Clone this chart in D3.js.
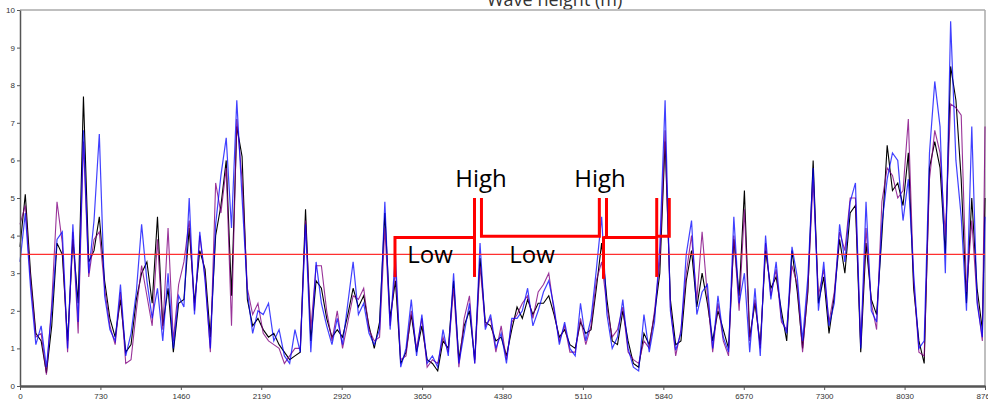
<!DOCTYPE html>
<html>
<head>
<meta charset="utf-8">
<script src="https://cdn.jsdelivr.net/npm/d3@7"></script>
<style>
  html, body { margin: 0; padding: 0; background: #fff; }
  svg { display: block; }
  .axis text { font-family: "Liberation Sans", Arial, sans-serif; font-size: 8px; fill: #333; }
  .axis path, .axis line { stroke: #555; }
</style>
</head>
<body>
<svg id="chart" width="988" height="404"></svg>
<script>
"use strict";

// hourly record sampled every 48 h, last point at hour 8760
const STEP = 48;

const blueSeries = [
  3.3, 4.6, 2.6, 1.1, 1.6, 0.5, 2.0, 3.9, 4.1, 1.0,
  4.3, 1.7, 6.8, 3.0, 4.4, 6.7, 2.4, 1.5, 1.2, 2.7,
  0.8, 1.4, 2.5, 4.3, 2.8, 1.8, 2.6, 1.2, 3.0, 1.0,
  2.4, 2.1, 5.0, 1.9, 4.1, 2.8, 1.0, 4.3, 5.6, 6.6,
  4.2, 7.6, 5.0, 2.5, 1.4, 2.0, 1.9, 2.2, 1.2, 1.5,
  0.8, 0.6, 1.5, 0.9, 4.3, 0.9, 3.3, 2.2, 1.6, 1.1,
  1.8, 1.1, 2.2, 3.3, 1.9, 2.2, 1.4, 1.1, 1.5, 4.9,
  1.5, 3.5, 0.5, 1.0, 2.3, 0.8, 1.9, 0.6, 0.8, 0.5,
  1.5, 0.8, 3.0, 0.6, 1.4, 2.2, 0.6, 3.8, 1.5, 1.9,
  1.0, 1.4, 0.6, 1.8, 1.8, 2.0, 2.6, 1.6, 2.0, 2.5,
  2.8, 2.1, 1.1, 1.7, 1.0, 0.8, 2.2, 1.2, 1.8, 3.1,
  4.5, 1.9, 1.0, 1.3, 2.3, 1.0, 0.5, 0.4, 1.9, 0.9,
  1.7, 3.7, 7.6, 2.0, 0.95, 1.4, 3.5, 4.4, 1.9, 2.5,
  2.7, 1.0, 2.4, 1.3, 0.9, 4.5, 2.2, 3.0, 0.9, 2.6,
  0.8, 4.0, 2.3, 3.3, 1.8, 1.4, 3.7, 2.9, 1.2, 2.9,
  5.8, 2.0, 3.3, 1.6, 2.2, 4.3, 3.3, 4.9, 5.4, 1.0,
  4.9, 2.0, 1.7, 4.3, 5.5, 6.2, 6.0, 4.4, 5.5, 3.0,
  1.0, 1.2, 6.2, 8.1, 6.9, 3.0, 9.7, 6.0, 4.5, 2.0,
  6.9, 2.2, 1.3, 4.5
];

const blackSeries = [
  3.7, 5.1, 3.0, 1.4, 1.2, 0.35, 1.6, 3.8, 3.5, 1.2,
  3.9, 2.2, 7.7, 3.3, 3.6, 4.5, 2.8, 1.8, 1.3, 2.3,
  0.9, 1.1, 2.3, 3.0, 3.3, 2.2, 4.5, 1.6, 2.6, 0.9,
  2.2, 2.3, 4.2, 2.2, 3.6, 3.1, 1.3, 4.0, 4.8, 6.0,
  2.4, 6.9, 6.1, 2.3, 1.6, 1.8, 1.5, 1.3, 1.4, 1.1,
  0.9, 0.7, 0.8, 0.9, 4.7, 1.2, 2.8, 2.6, 1.8, 1.3,
  1.5, 1.3, 1.9, 2.6, 2.1, 2.4, 1.6, 1.0, 1.7, 4.6,
  1.8, 2.8, 0.6, 0.9, 1.9, 0.9, 1.6, 0.7, 0.6, 0.4,
  1.2, 1.0, 2.8, 0.7, 1.6, 2.0, 0.7, 3.4, 1.7, 1.6,
  1.2, 1.3, 0.8, 1.5, 2.1, 1.8, 2.3, 1.9, 2.2, 2.2,
  2.4, 1.9, 1.3, 1.5, 1.1, 1.0, 1.7, 1.4, 1.5, 2.6,
  3.8, 2.3, 1.2, 1.1, 2.0, 1.2, 0.6, 0.5, 1.4, 1.1,
  1.9, 3.0, 6.5, 2.3, 1.1, 1.2, 2.8, 3.6, 2.1, 3.0,
  2.2, 1.2, 2.0, 1.5, 1.0, 3.9, 2.4, 5.2, 1.3, 2.2,
  1.1, 3.6, 2.6, 2.9, 2.0, 1.2, 3.6, 2.5, 1.0, 2.5,
  6.0, 2.2, 2.9, 1.4, 2.4, 3.9, 3.0, 4.6, 4.8, 0.9,
  3.8, 2.3, 1.9, 4.0, 6.4, 5.2, 5.4, 4.8, 6.2, 2.6,
  1.2, 0.6, 5.8, 6.5, 5.8, 3.5, 8.5, 7.6, 5.5, 2.2,
  5.0, 2.6, 1.5, 5.0
];

const purpleSeries = [
  4.3, 4.8, 2.8, 1.3, 1.4, 0.3, 2.2, 4.9, 3.8, 0.9,
  4.1, 1.4, 6.5, 2.9, 3.9, 4.1, 2.6, 1.6, 1.1, 2.5,
  0.6, 0.7, 2.0, 3.2, 2.4, 1.6, 3.9, 1.5, 4.2, 1.2,
  2.7, 3.3, 4.4, 2.0, 4.0, 2.9, 0.9, 5.4, 4.6, 5.8,
  1.6, 7.1, 5.5, 2.6, 1.9, 2.2, 1.4, 1.2, 1.1, 1.0,
  0.6, 0.8, 1.0, 1.0, 4.4, 1.5, 3.2, 3.2, 2.0, 1.2,
  2.0, 1.0, 1.7, 2.4, 2.3, 2.6, 1.5, 1.2, 1.3, 4.2,
  1.6, 3.1, 0.7, 0.8, 2.0, 1.0, 1.8, 0.5, 0.7, 0.6,
  1.3, 0.9, 2.6, 0.5, 1.8, 2.4, 0.6, 3.2, 1.6, 1.8,
  0.9, 1.6, 0.7, 1.7, 1.9, 2.2, 2.4, 1.8, 2.5, 2.7,
  3.0, 2.0, 1.2, 1.6, 0.9, 0.9, 1.8, 1.1, 1.6, 2.8,
  3.3, 2.1, 1.3, 1.5, 2.1, 0.9, 0.7, 0.6, 1.2, 1.0,
  2.0, 3.3, 6.8, 2.1, 0.8, 1.5, 3.0, 4.0, 2.3, 4.1,
  2.4, 0.9, 2.2, 1.2, 0.8, 4.0, 2.0, 4.7, 1.2, 2.3,
  1.0, 3.8, 2.4, 3.1, 1.7, 1.5, 3.2, 2.7, 0.9, 2.6,
  5.5, 2.4, 3.1, 1.7, 2.5, 4.1, 3.6, 5.0, 5.0, 1.1,
  4.2, 2.2, 1.5, 4.9, 5.8, 5.6, 5.0, 5.2, 7.1, 2.8,
  0.9, 0.8, 5.5, 6.8, 6.2, 4.0, 7.5, 7.4, 7.2, 2.5,
  4.4, 2.3, 1.2, 6.9
];

const xTicks = [0, 730, 1460, 2190, 2920, 3650, 4380, 5110, 5840, 6570, 7300, 8030, 8760];
const yTicks = [0, 1, 2, 3, 4, 5, 6, 7, 8, 9, 10];
const threshold = 3.5;

// red High / Low brackets, in [hour, metres]
const bracketLines = [
  [[3404, 2.9], [3404, 3.95], [4126, 3.95]],
  [[4126, 5.0], [4126, 2.9]],
  [[4189, 5.0], [4189, 3.98], [5259, 3.98], [5259, 5.0]],
  [[5324, 5.0], [5324, 3.98]],
  [[5297, 3.98], [5297, 2.85]],
  [[5297, 3.95], [5780, 3.95]],
  [[5780, 5.0], [5780, 2.9]],
  [[5780, 3.98], [5894, 3.98], [5894, 5.0]]
];
const bracketLabels = [
  {text: "High", hour: 4185, value: 5.3},
  {text: "High", hour: 5265, value: 5.3},
  {text: "Low", hour: 3722, value: 3.28},
  {text: "Low", hour: 4648, value: 3.28}
];

const svg = d3.select("#chart");
const margin = {top: 10, right: 3, bottom: 18, left: 20};
const width = 988 - margin.left - margin.right;
const height = 404 - margin.top - margin.bottom;

const x = d3.scaleLinear().domain([0, 8760]).range([0, width]);
const y = d3.scaleLinear().domain([0, 10]).range([height, 0]);

// title, mostly cut off by the top edge
svg.append("text")
  .attr("x", 487).attr("y", 6)
  .attr("font-family", "'Open Sans', sans-serif")
  .attr("font-size", 18)
  .attr("fill", "#333")
  .text("Wave height (m)");

const g = svg.append("g").attr("transform", "translate(" + margin.left + "," + margin.top + ")");

// frame
g.append("line").attr("x1", 0).attr("x2", width).attr("y1", 0).attr("y2", 0)
  .attr("stroke", "#aaa").attr("stroke-width", 1.5);
g.append("line").attr("x1", width).attr("x2", width).attr("y1", 0).attr("y2", height)
  .attr("stroke", "#aaa").attr("stroke-width", 1.5);

const line = d3.line()
  .x((d, i) => x(Math.min(i * STEP, 8760)))
  .y(d => y(d));

g.append("path").datum(blackSeries)
  .attr("fill", "none").attr("stroke", "#000").attr("stroke-width", 1.1)
  .attr("d", line);
g.append("path").datum(purpleSeries)
  .attr("fill", "none").attr("stroke", "#800080").attr("stroke-width", 1.1)
  .attr("stroke-opacity", 0.8).attr("d", line);
g.append("path").datum(blueSeries)
  .attr("fill", "none").attr("stroke", "#0000ff").attr("stroke-width", 1.2)
  .attr("stroke-opacity", 0.75).attr("d", line);

// threshold
g.append("line")
  .attr("x1", x(0)).attr("x2", x(8760))
  .attr("y1", y(threshold)).attr("y2", y(threshold))
  .attr("stroke", "#ff3030").attr("stroke-width", 1.3);

// annotation
const bracket = d3.line().x(d => x(d[0])).y(d => y(d[1]));
g.selectAll(".bracket").data(bracketLines).join("path")
  .attr("class", "bracket")
  .attr("fill", "none").attr("stroke", "#ff0000").attr("stroke-width", 3)
  .attr("d", bracket);
g.selectAll(".blabel").data(bracketLabels).join("text")
  .attr("class", "blabel")
  .attr("x", d => x(d.hour)).attr("y", d => y(d.value))
  .attr("text-anchor", "middle")
  .attr("font-family", "'Open Sans', sans-serif")
  .attr("font-size", 24)
  .attr("fill", "#000")
  .text(d => d.text);

// axes
g.append("g").attr("class", "axis")
  .call(d3.axisLeft(y).tickValues(yTicks).tickFormat(d3.format("d")).tickSize(3).tickSizeOuter(0).tickPadding(2))
  .select(".domain").attr("stroke-width", 1.5);

g.append("g").attr("class", "axis")
  .attr("transform", "translate(0," + height + ")")
  .call(d3.axisBottom(x).tickValues(xTicks).tickFormat(d3.format("d")).tickSize(4).tickSizeOuter(0).tickPadding(3))
  .select(".domain").attr("stroke-width", 2.5);
</script>
</body>
</html>
